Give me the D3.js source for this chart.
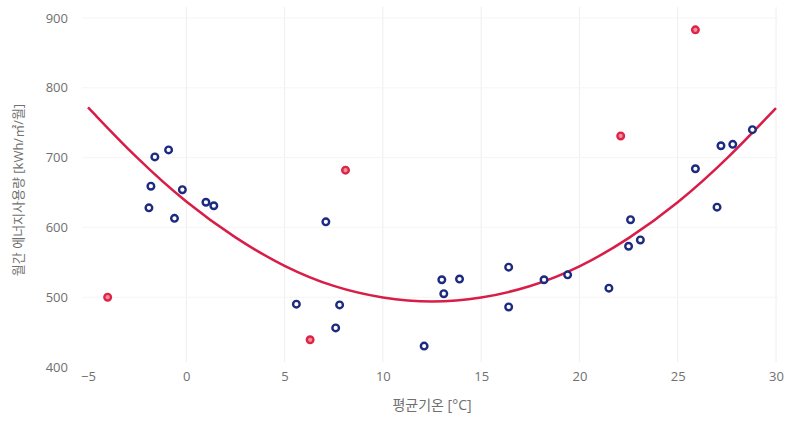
<!DOCTYPE html>
<html>
<head>
<meta charset="utf-8">
<script src="https://cdn.jsdelivr.net/npm/d3@7"></script>
<style>
  body { margin: 0; background: #fff; }
  text { font-family: "Open Sans", "Noto Sans CJK KR", sans-serif; }
</style>
</head>
<body>
<div id="chart"></div>
<script>
// monthly data (blue = normal months, red = outliers)
var normalTemp = [-1.9, -1.8, -1.6, -0.9, -0.6, -0.2, 1.0, 1.4, 5.6, 7.1, 7.8, 7.6, 12.1, 13.0, 13.1, 13.9,
                  16.4, 16.4, 18.2, 19.4, 21.5, 22.5, 22.6, 23.1, 25.9, 27.0, 27.2, 27.8, 28.8];
var normalUse  = [628, 659, 701, 711, 613, 654, 636, 631, 490, 608, 489, 456, 430, 525, 505, 526,
                  543, 486, 525, 532, 513, 573, 611, 582, 684, 629, 717, 719, 740];
var outlierTemp = [-4.0, 6.3, 8.1, 22.1, 25.9];
var outlierUse  = [500, 439, 682, 731, 883];

// fitted curve
var fitTemp = [-5, -2.5, 0, 2.5, 5, 7.5, 10, 12.5, 15, 17.5, 20, 22.5, 25, 27.5, 30];
var fitUse  = [772, 698, 635, 584, 543, 514, 498, 492, 498, 514, 542, 583, 634, 697, 771];

var xTicks = [-5, 0, 5, 10, 15, 20, 25, 30];
var yTicks = [400, 500, 600, 700, 800, 900];

var W = 787, H = 421;
var svg = d3.select("#chart").append("svg")
  .attr("width", W)
  .attr("height", H);

var x = d3.scaleLinear()
  .domain([-5, 30])
  .range([88, 776]);

var y = d3.scaleLinear()
  .domain([400, 900])
  .range([367, 18]);

// grid lines
svg.append("g")
  .selectAll("line")
  .data(xTicks.slice(1))
  .enter()
  .append("line")
    .attr("x1", function(d) { return x(d) })
    .attr("x2", function(d) { return x(d) })
    .attr("y1", 7)
    .attr("y2", 362)
    .attr("stroke", "#eeeeee")
    .attr("stroke-width", 1);

svg.append("g")
  .selectAll("line")
  .data(yTicks.slice(1))
  .enter()
  .append("line")
    .attr("x1", 82)
    .attr("x2", 778)
    .attr("y1", function(d) { return y(d) })
    .attr("y2", function(d) { return y(d) })
    .attr("stroke", "#f5f5f5")
    .attr("stroke-width", 1);

// axes (labels only)
var xAxis = svg.append("g")
  .attr("transform", "translate(0,372)")
  .call(d3.axisBottom(x).tickValues(xTicks).tickSize(0).tickPadding(0)
    .tickFormat(function(d) { return d < 0 ? "\u2212" + Math.abs(d) : d }));
xAxis.select(".domain").remove();
xAxis.selectAll("text")
  .attr("fill", "#707070")
  .style("font-size", "13px")
  .attr("dy", "0.71em");

var yAxis = svg.append("g")
  .attr("transform", "translate(68,0)")
  .call(d3.axisLeft(y).tickValues(yTicks).tickSize(0).tickPadding(0));
yAxis.select(".domain").remove();
yAxis.selectAll("text")
  .attr("fill", "#707070")
  .style("font-size", "13px");

// axis titles
svg.append("text")
  .attr("x", 432)
  .attr("y", 410)
  .attr("text-anchor", "middle")
  .attr("fill", "#707070")
  .style("font-size", "14px")
  .text("평균기온 [°C]");

svg.append("text")
  .attr("transform", "translate(23,190) rotate(-90)")
  .attr("text-anchor", "middle")
  .attr("fill", "#707070")
  .style("font-size", "13px")
  .text("월간 에너지사용량 [kWh/㎡/월]");

// fitted curve
var fit = fitTemp.map(function(t, i) { return {t: t, u: fitUse[i]} });
svg.append("path")
  .datum(fit)
  .attr("fill", "none")
  .attr("stroke", "#d81e48")
  .attr("stroke-width", 2.5)
  .attr("d", d3.line()
    .curve(d3.curveBasis)
    .x(function(d) { return x(d.t) })
    .y(function(d) { return y(d.u) }));

// points
var normal = normalTemp.map(function(t, i) { return {t: t, u: normalUse[i]} });
var outlier = outlierTemp.map(function(t, i) { return {t: t, u: outlierUse[i]} });

svg.append("g")
  .selectAll("circle")
  .data(normal)
  .enter()
  .append("circle")
    .attr("cx", function(d) { return x(d.t) })
    .attr("cy", function(d) { return y(d.u) })
    .attr("r", 3.3)
    .attr("fill", "#ffffff")
    .attr("stroke", "#1c2a80")
    .attr("stroke-width", 2.4);

svg.append("g")
  .selectAll("circle")
  .data(outlier)
  .enter()
  .append("circle")
    .attr("cx", function(d) { return x(d.t) })
    .attr("cy", function(d) { return y(d.u) })
    .attr("r", 3.3)
    .attr("fill", "#f08c9c")
    .attr("stroke", "#dc2547")
    .attr("stroke-width", 2.4);
</script>
</body>
</html>
